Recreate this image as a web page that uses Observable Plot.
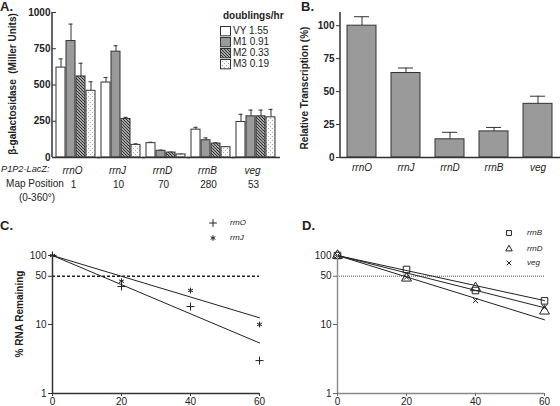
<!DOCTYPE html>
<html><head><meta charset="utf-8">
<script src="https://cdn.jsdelivr.net/npm/d3@7"></script>
<script src="https://cdn.jsdelivr.net/npm/@observablehq/plot@0.6"></script>
<style>
body{margin:0;background:#fff;}
#fig{position:relative;width:560px;height:406px;overflow:hidden;font-family:"Liberation Sans",Arial,sans-serif;color:#222;background:#fff;}
.panel{position:absolute;}
.lbl{position:absolute;white-space:pre;line-height:1;font-size:10px;color:#222;}
</style></head><body>
<svg width="0" height="0" style="position:absolute">
  <defs>
    <pattern id="hatch" patternUnits="userSpaceOnUse" width="3" height="3">
      <rect width="3" height="3" fill="#fff"/>
      <path d="M-1,-1 L4,4 M-1,2 L1,4 M2,-1 L4,1" stroke="#333" stroke-width="1.3"/>
    </pattern>
    <pattern id="dots" patternUnits="userSpaceOnUse" width="4" height="4">
      <rect width="4" height="4" fill="#fafafa"/>
      <rect x="0" y="0" width="1" height="1" fill="#aaa"/>
      <rect x="2" y="2" width="1" height="1" fill="#aaa"/>
    </pattern>
  </defs>
</svg>
<div id="fig"></div>
<script>
// ---------- data ----------
const genes = ["rrnO", "rrnJ", "rrnD", "rrnB", "veg"];
const mapPositions = ["1", "10", "70", "280", "53"];
const growth = ["VY", "M1", "M2", "M3"];
const growthRates = ["1.55", "0.91", "0.33", "0.19"];
const vyMean = [620, 517, 99, 192, 245];
const vyTop  = [680, 552, 105, 208, 298];
const m1Mean = [803, 730, 46, 119, 284];
const m1Top  = [920, 771, 51, 135, 327];
const m2Mean = [559, 266, 34, 96, 284];
const m2Top  = [650, 277, 37, 101, 327];
const m3Mean = [460, 87, 21, 71, 277];
const m3Top  = [522, 94, 23, 73, 332];
const aTicks = [0, 250, 500, 750, 1000];

const relMean = [100, 64.1, 13.8, 19.8, 40.7];
const relTop  = [106.8, 67.9, 19.1, 22.8, 46.5];
const bTicks = [0, 25, 50, 75, 100];

const times = [0, 20, 40, 60];
const rrnOdecay = [100, 35.5, 18.2, 3.0];
const rrnJdecay = [100, 42.4, 31.1, 10];
const fitTimes = [0, 60];
const rrnOfit = [100, 5.4];
const rrnJfit = [100, 12.5];

const rrnBdecay = [100, 62.7, 31.1, 22];
const rrnDdecay = [100, 46.9, 34, 15.6];
const vegDecay  = [100, 48.5, 22.2, 17.8];
const rrnBfit = [100, 22.2];
const rrnDfit = [100, 17.5];
const vegFit  = [100, 11.7];
const logTicks = [1, 10, 50, 100];
const timeTicks = [0, 20, 40, 60];

// ---------- helpers ----------
const fig = document.getElementById("fig");
function place(node, left, top) {
  const d = document.createElement("div");
  d.className = "panel"; d.style.left = left + "px"; d.style.top = top + "px";
  d.appendChild(node); fig.appendChild(d); return d;
}
function label(text, x, y, css = {}, anchor = "center") {
  const s = document.createElement("span");
  s.className = "lbl"; s.textContent = text;
  s.style.left = x + "px"; s.style.top = y + "px";
  const tx = anchor === "center" ? "-50%" : anchor === "end" ? "-100%" : "0";
  s.style.transform = css.rotate ? "translate(-50%,-50%) rotate(-90deg)" : `translate(${tx},-50%)`;
  Object.entries(css).forEach(([k, v]) => { if (k !== "rotate") s.style[k] = v; });
  fig.appendChild(s); return s;
}
const baseStyle = {fontFamily: "'Liberation Sans', Arial, sans-serif", fontSize: "10px", color: "#222", background: "transparent", overflow: "visible"};
const symbolMap = {plus: d3.symbolPlus, asterisk: d3.symbolAsterisk, square: d3.symbolSquare2, triangle: d3.symbolTriangle2, times: d3.symbolTimes};
function legendSymbol(sym, x, y, r) {
  const svg = d3.create("svg").attr("width", 14).attr("height", 14)
    .style("position", "absolute").style("left", (x - 7) + "px").style("top", (y - 7) + "px").style("overflow", "visible");
  svg.append("path").attr("transform", "translate(7,7)")
    .attr("d", d3.symbol(symbolMap[sym], Math.PI * r * r)())
    .attr("fill", "none").attr("stroke", "#222").attr("stroke-width", 1);
  fig.appendChild(svg.node());
}

// ---------- Panel A ----------
const means = [vyMean, m1Mean, m2Mean, m3Mean];
const tops = [vyTop, m1Top, m2Top, m3Top];
const rowsA = [];
genes.forEach((g, i) => growth.forEach((s, j) => rowsA.push({gene: g, s, v: means[j][i], e: tops[j][i]})));
const fills = ["#ffffff", "#9a9a9a", "url(#hatch)", "url(#dots)"];

const chartA = Plot.plot({
  width: 280, height: 210, marginLeft: 52, marginRight: 0, marginTop: 12, marginBottom: 53,
  style: baseStyle,
  fx: {domain: genes, paddingInner: 0.115, paddingOuter: 0.04},
  x: {domain: growth, paddingInner: 0.08, paddingOuter: 0, axis: null},
  y: {domain: [0, 1000]},
  color: {domain: growth, range: fills},
  marks: [
    Plot.ruleX(rowsA, {fx: "gene", x: "s", y1: "v", y2: "e", stroke: "#333", strokeWidth: 1}),
    Plot.tickY(rowsA, {fx: "gene", x: "s", y: "e", insetLeft: 2.5, insetRight: 2.5, stroke: "#333", strokeWidth: 1}),
    Plot.barY(rowsA, {fx: "gene", x: "s", y: "v", fill: "s", stroke: "#333", strokeWidth: 1}),
    Plot.ruleY([0], {insetLeft: -4, insetRight: -4, stroke: "#333", strokeWidth: 1.5}),
    Plot.axisY({ticks: aTicks, tickFormat: d => String(d), tickSize: 4, tickPadding: 2, fontWeight: "bold", label: null, stroke: "#333"}),
    Plot.axisFx({anchor: "bottom", tickSize: 0, tickPadding: 9, label: null, fontStyle: "italic", dx: -4}),
    Plot.axisFx({anchor: "bottom", tickSize: 0, tickPadding: 23, label: null, dx: -3, tickFormat: g => mapPositions[genes.indexOf(g)]})
  ]
});
place(chartA, 0, 0);
{
  const ys = chartA.scale("y");
  d3.select(chartA).append("line").attr("x1", 52).attr("x2", 52).attr("y1", ys.range[0]).attr("y2", ys.range[1])
    .attr("stroke", "#333").attr("stroke-width", 1.5);
}

// ---------- Panel B ----------
const rowsB = genes.map((g, i) => ({gene: g, v: relMean[i], e: relTop[i]}));
const chartB = Plot.plot({
  width: 280, height: 210, marginLeft: 60, marginRight: 0, marginTop: 12, marginBottom: 53,
  style: baseStyle,
  x: {domain: genes, paddingInner: 0.34, paddingOuter: 0.17},
  y: {domain: [0, 110]},
  marks: [
    Plot.ruleX(rowsB, {x: "gene", y1: "v", y2: "e", stroke: "#333", strokeWidth: 1}),
    Plot.tickY(rowsB, {x: "gene", y: "e", insetLeft: 7, insetRight: 7, stroke: "#333", strokeWidth: 1}),
    Plot.barY(rowsB, {x: "gene", y: "v", fill: "#9a9a9a", stroke: "#333", strokeWidth: 1}),
    Plot.ruleY([0], {stroke: "#333", strokeWidth: 1.5}),
    Plot.axisY({ticks: bTicks, tickSize: 4, tickPadding: 2, fontWeight: "bold", label: null, stroke: "#333"}),
    Plot.axisX({tickSize: 0, tickPadding: 6, label: null, fontStyle: "italic"})
  ]
});
place(chartB, 280, 0);
{
  const ys = chartB.scale("y");
  d3.select(chartB).append("line").attr("x1", 60).attr("x2", 60).attr("y1", ys.range[0]).attr("y2", ys.range[1])
    .attr("stroke", "#333").attr("stroke-width", 1.5);
}

// ---------- Panel C ----------
const ptsC = [];
times.forEach((t, i) => { ptsC.push({t, v: rrnOdecay[i], g: "rrnO"}); ptsC.push({t, v: rrnJdecay[i], g: "rrnJ"}); });
const fitC = [];
fitTimes.forEach((t, i) => { fitC.push({t, v: rrnOfit[i], g: "rrnO"}); fitC.push({t, v: rrnJfit[i], g: "rrnJ"}); });
const chartC = Plot.plot({
  width: 280, height: 196, marginLeft: 52, marginRight: 21, marginTop: 45, marginBottom: 13,
  style: baseStyle,
  x: {domain: [0, 60]},
  y: {type: "log", domain: [1, 100]},
  symbol: {domain: ["rrnO", "rrnJ"], range: ["plus", "asterisk"]},
  marks: [
    Plot.ruleY([50], {x1: 0, x2: 60, stroke: "#222", strokeWidth: 1.4, strokeDasharray: "3,2"}),
    Plot.line(fitC, {x: "t", y: "v", z: "g", stroke: "#222", strokeWidth: 1}),
    Plot.dot(ptsC, {x: "t", y: "v", symbol: "g", r: 2.7, stroke: "#222", strokeWidth: 1}),
    Plot.ruleX([0], {stroke: "#333", strokeWidth: 1.5}),
    Plot.ruleY([1], {stroke: "#333", strokeWidth: 1.5}),
    Plot.axisY({ticks: logTicks, tickFormat: d => String(d), tickSize: 4, tickPadding: 2, label: null, stroke: "#333"}),
    Plot.axisX({ticks: timeTicks, tickSize: 3, tickPadding: 1, label: null, stroke: "#333"})
  ]
});
place(chartC, 0, 210);

// ---------- Panel D ----------
const ptsD = [];
times.forEach((t, i) => {
  ptsD.push({t, v: rrnBdecay[i], g: "rrnB"});
  ptsD.push({t, v: rrnDdecay[i], g: "rrnD"});
  ptsD.push({t, v: vegDecay[i], g: "veg"});
});
const fitD = [];
fitTimes.forEach((t, i) => {
  fitD.push({t, v: rrnBfit[i], g: "rrnB"});
  fitD.push({t, v: rrnDfit[i], g: "rrnD"});
  fitD.push({t, v: vegFit[i], g: "veg"});
});
const chartD = Plot.plot({
  width: 280, height: 196, marginLeft: 57, marginRight: 16, marginTop: 45, marginBottom: 13,
  style: baseStyle,
  x: {domain: [0, 60]},
  y: {type: "log", domain: [1, 100]},
  symbol: {domain: ["rrnB", "rrnD", "veg"], range: ["square", "triangle", "times"]},
  marks: [
    Plot.ruleY([50], {x1: 0, x2: 60, stroke: "#888", strokeWidth: 1.4, strokeDasharray: "1,1"}),
    Plot.line(fitD, {x: "t", y: "v", z: "g", stroke: "#222", strokeWidth: 1}),
    Plot.dot(ptsD.filter(d => d.g !== "veg"), {x: "t", y: "v", symbol: "g", r: 3.7, stroke: "#222", strokeWidth: 1}),
    Plot.dot(ptsD.filter(d => d.g === "veg"), {x: "t", y: "v", symbol: "g", r: 2.4, stroke: "#222", strokeWidth: 1}),
    Plot.ruleX([0], {stroke: "#888", strokeWidth: 1.4}),
    Plot.ruleY([1], {stroke: "#888", strokeWidth: 1.4}),
    Plot.axisY({ticks: logTicks, tickFormat: d => String(d), tickSize: 4, tickPadding: 2, label: null, stroke: "#666"}),
    Plot.axisX({ticks: timeTicks, tickSize: 3, tickPadding: 1, label: null, stroke: "#666"})
  ]
});
place(chartD, 280, 210);

// ---------- text labels ----------
const big = {fontSize: "13px", fontWeight: "bold"};
label("A.", 0, 6, big, "start");
label("B.", 301, 6, big, "start");
label("C.", 0, 225, big, "start");
label("D.", 302, 225, big, "start");

label("β-galactosidase  (Miller Units)", 12.5, 84, {rotate: true, fontWeight: "bold", fontSize: "10px"});
label("Relative Transcription (%)", 305, 88, {rotate: true, fontWeight: "bold", fontSize: "10px"});
label("% RNA Remaining", 20, 314, {rotate: true, fontWeight: "bold", fontSize: "10px"});

label("P1P2-LacZ:", 1, 170, {fontStyle: "italic", fontSize: "9.2px"}, "start");
label("Map Position", 35, 184);
label("(0-360°)", 37, 198);

// legend A
label("doublings/hr", 223, 16, {fontWeight: "bold"}, "start");
const legY = [31.3, 42.3, 53, 63.5];
growth.forEach((g, j) => {
  const svg = d3.create("svg").attr("width", 12).attr("height", 11)
    .style("position", "absolute").style("left", "220px").style("top", (legY[j] - 5) + "px");
  svg.append("rect").attr("x", 0.5).attr("y", 0.5).attr("width", 10).attr("height", 9.3)
    .attr("fill", fills[j]).attr("stroke", "#333").attr("stroke-width", 1);
  fig.appendChild(svg.node());
  label(g + " " + growthRates[j], 233, legY[j], {}, "start");
});

// legend C
const legC = [["rrnO", "plus", 223, 2.6], ["rrnJ", "asterisk", 238, 2.6]];
legC.forEach(([name, sym, y, r]) => { legendSymbol(sym, 213, y, r); label(name, 230, y, {fontStyle: "italic", fontSize: "8px"}, "start"); });
// legend D
const legD = [["rrnB", "square", 233, 3.1], ["rrnD", "triangle", 249, 3.1], ["veg", "times", 263, 2.2]];
legD.forEach(([name, sym, y, r]) => { legendSymbol(sym, 509, y, r); label(name, 527, y, {fontStyle: "italic", fontSize: "8px"}, "start"); });
</script>
</body></html>
